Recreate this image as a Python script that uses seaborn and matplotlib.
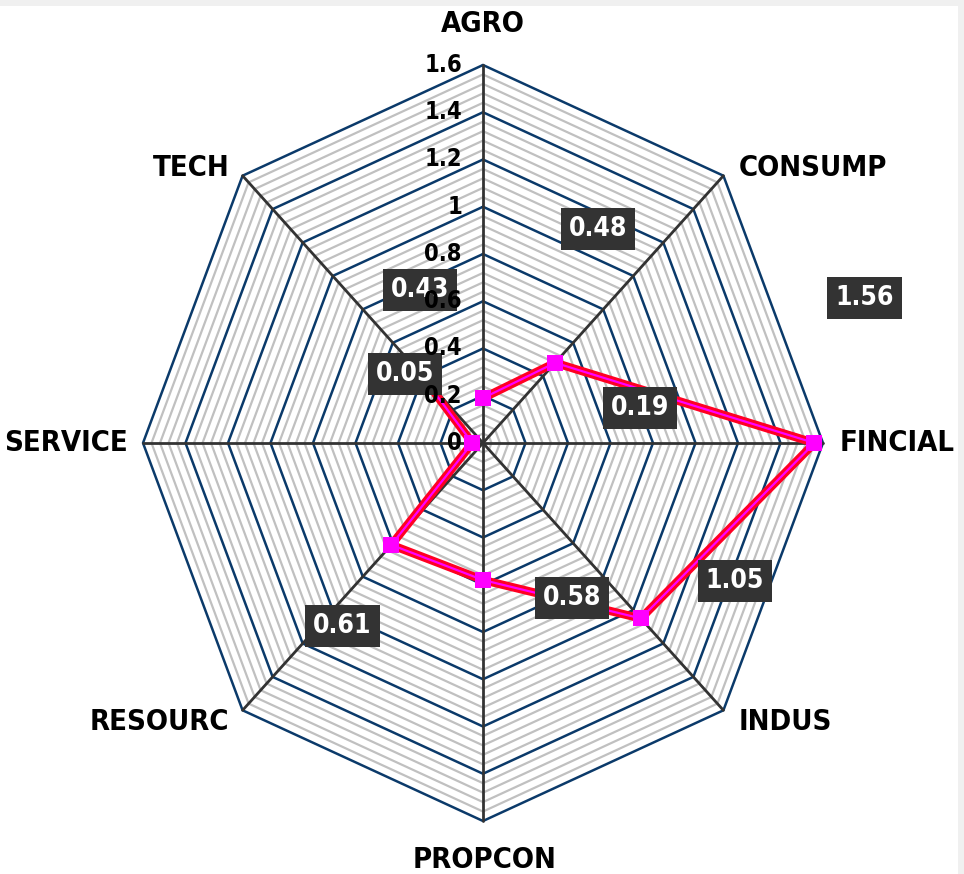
import numpy as np
import pandas as pd
import matplotlib
matplotlib.use("Agg")
import matplotlib.pyplot as plt
import seaborn as sns
from matplotlib.patches import Rectangle

categories = ["AGRO", "CONSUMP", "FINCIAL", "INDUS", "PROPCON", "RESOURC", "SERVICE", "TECH"]
values = [0.19, 0.48, 1.56, 1.05, 0.58, 0.61, 0.05, 0.43]
value_labels = ["0.19", "0.48", "1.56", "1.05", "0.58", "0.61", "0.05", "0.43"]
ticks = [0, 0.2, 0.4, 0.6, 0.8, 1, 1.2, 1.4, 1.6]
tick_labels = ["0", "0.2", "0.4", "0.6", "0.8", "1", "1.2", "1.4", "1.6"]
rmax = 1.6

sns.set_style("white")
plt.rcParams['font.family'] = ['DejaVu Sans']
plt.rcParams['font.stretch'] = 'condensed'

n = len(categories)
ang = np.arange(n) * 2 * np.pi / n


def xy(r, a):
    return r * np.sin(a), r * np.cos(a)


fig = plt.figure(figsize=(9.64, 8.74), dpi=100, facecolor="#f0f0f0")
ax = fig.add_axes([0, 0, 1, 1])
ax.set_facecolor("none")
ax.set_xlim(-483 / 212.5, 481 / 212.5)
ax.set_ylim(-431 / 236.25, 443 / 236.25)
ax.axis("off")
ax.add_patch(Rectangle((0, 0), 958 / 964, 1 - 6 / 874, transform=fig.transFigure,
                       facecolor="white", edgecolor="none", zorder=0, clip_on=False))

# minor rings
closed = np.append(ang, ang[0])
for r in np.arange(0.04, rmax + 1e-9, 0.04):
    if abs(r / 0.2 - round(r / 0.2)) < 1e-6:
        continue
    x, y = xy(r, closed)
    ax.plot(x, y, color="#c0c0c0", lw=1.6, zorder=1)
# major rings
for r in ticks[1:]:
    x, y = xy(r, closed)
    ax.plot(x, y, color="#0b3a6a", lw=1.8, zorder=2)
# spokes
for a in ang:
    x, y = xy(rmax, a)
    ax.plot([0, x], [0, y], color="#333333", lw=2, zorder=3)

# data
px, py = xy(np.array(values), ang)
df = pd.DataFrame({"x": np.append(px, px[0]), "y": np.append(py, py[0])})
sns.lineplot(data=df, x="x", y="y", sort=False, color="#ff0022", lw=6, ax=ax, zorder=4)
sns.lineplot(data=df, x="x", y="y", sort=False, color="#ff00ff", lw=1.6, ax=ax, zorder=5,
             marker="s", markersize=11, markeredgewidth=0, markerfacecolor="#ff00ff")

# value labels
val_off = [(157, -10), (43, 134), (50, 145), (94, 37), (89, -18), (-49, -81), (-67, 69), (2, 81)]
for v, a, lab, (dx, dy) in zip(values, ang, value_labels, val_off):
    ax.annotate(lab, xy(v, a), xytext=(dx, dy), textcoords="offset pixels",
                ha="center", va="center", fontsize=19, fontweight="bold", color="white",
                zorder=7,
                bbox=dict(boxstyle="square,pad=0.3", facecolor="#333333", edgecolor="none"))

# tick labels on top spoke (drawn above the value boxes)
for t, lab in zip(ticks, tick_labels):
    ax.annotate(lab, (0, t), xytext=(-21, 0), textcoords="offset pixels",
                ha="right", va="center", fontsize=17, fontweight="bold",
                color="black", zorder=8)

# category labels
cat_off = [(0, 41, "center"), (15, 8, "left"), (17, 0, "left"), (15, -12, "left"),
           (2, -39, "center"), (-13, -12, "right"), (-15, 0, "right"), (-13, 8, "right")]
for c, a, (dx, dy, ha) in zip(categories, ang, cat_off):
    ax.annotate(c, xy(rmax, a), xytext=(dx, dy), textcoords="offset pixels",
                ha=ha, va="center", fontsize=21, fontweight="bold", color="black", zorder=6)

fig.savefig("out.png", dpi=100, facecolor=fig.get_facecolor())
